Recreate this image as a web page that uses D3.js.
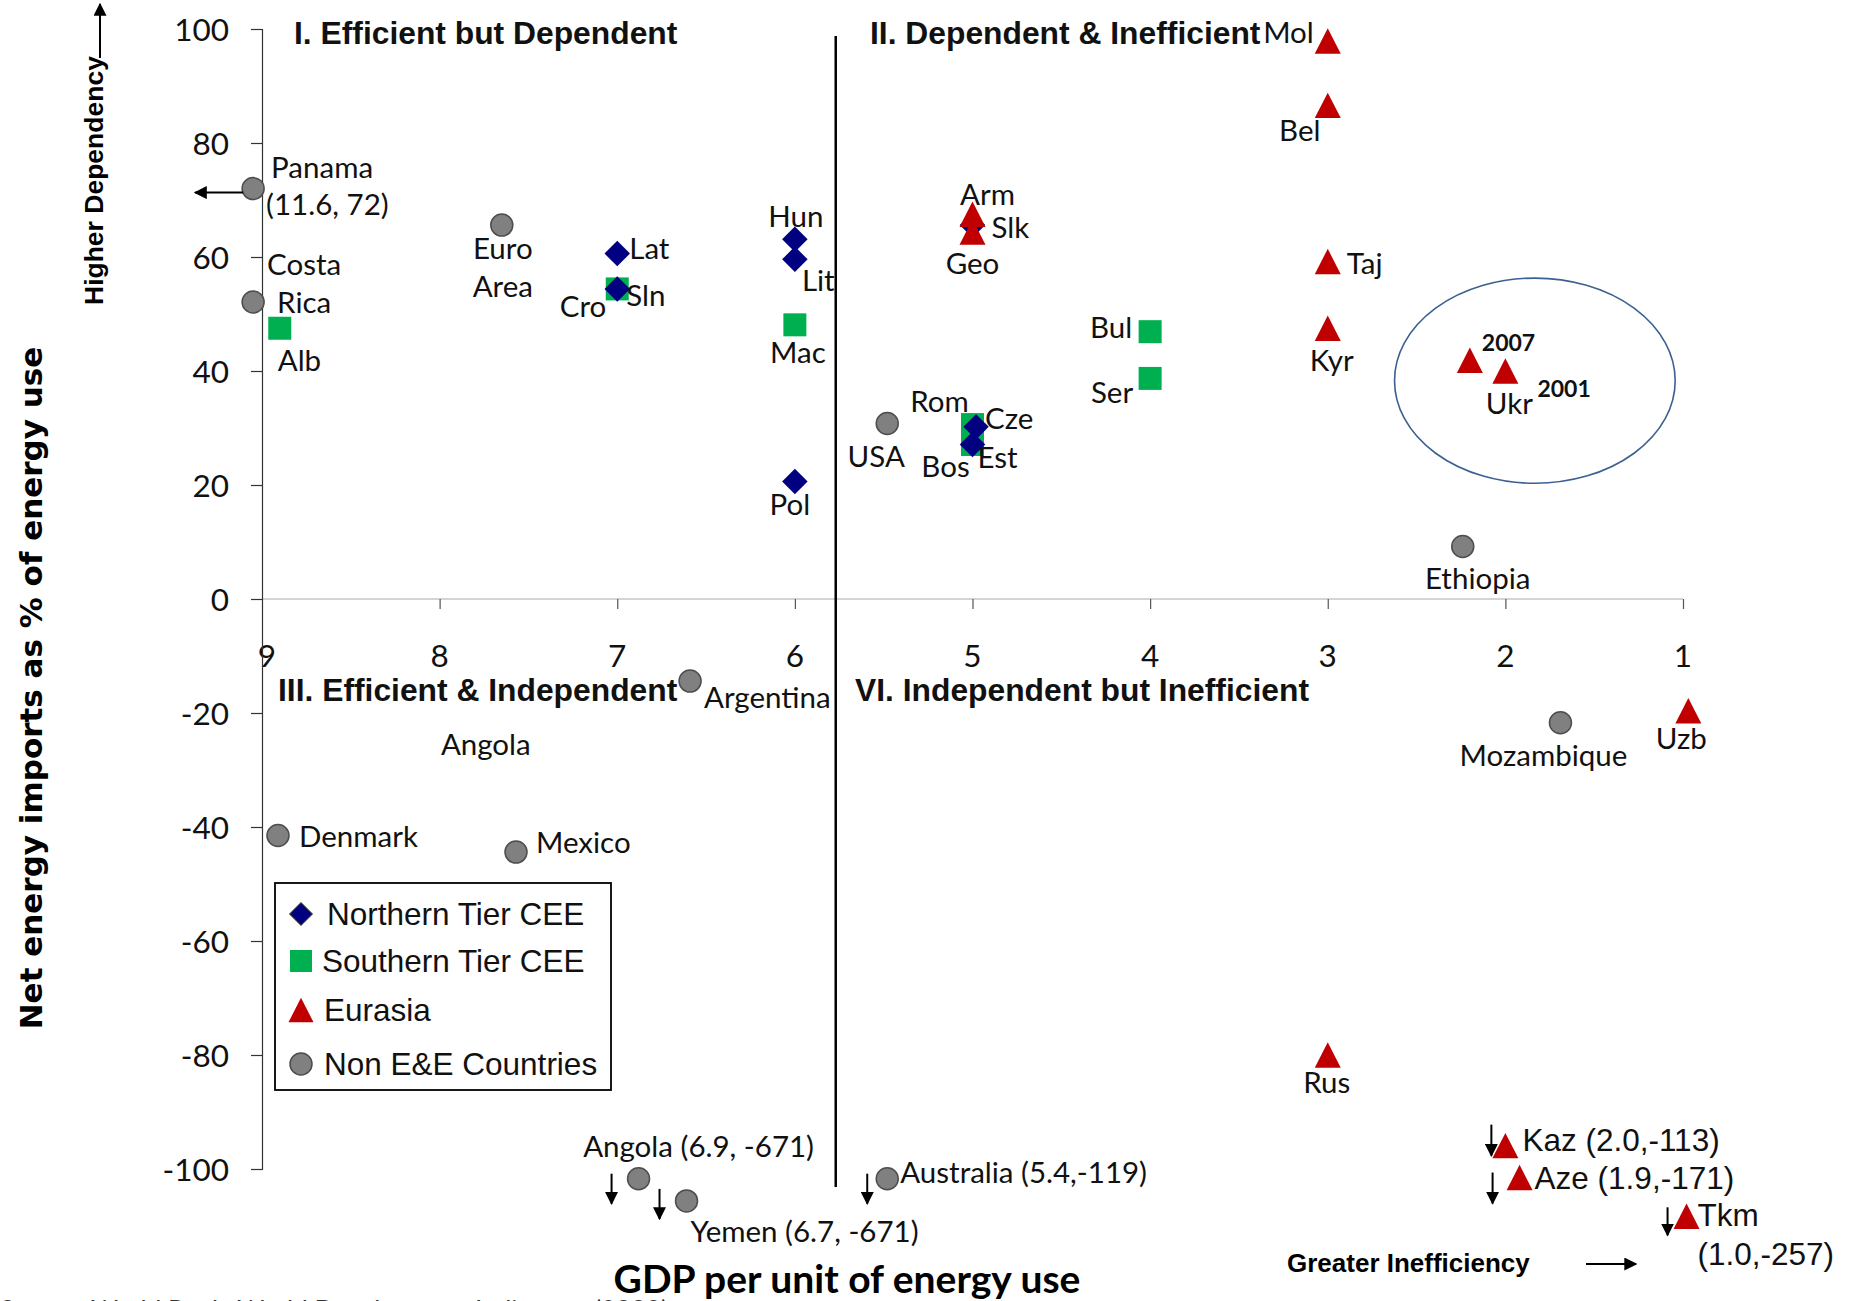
<!DOCTYPE html>
<html>
<head>
<meta charset="utf-8">
<script src="https://cdn.jsdelivr.net/npm/d3@7"></script>
<style>
  html, body { margin: 0; padding: 0; background: #fff; }
  svg { display: block; }
  .lbl { font-family: Lato, "Open Sans", sans-serif; font-size: 29.5px; fill: #111; }
  .lbla { font-family: "Liberation Sans", Arial, sans-serif; font-size: 31.5px; fill: #111; }
  .tick { font-family: Lato, sans-serif; font-size: 31.5px; fill: #111; }
  .quad { font-family: "Liberation Sans", Arial, sans-serif; font-weight: bold; font-size: 31.8px; fill: #111; }
  .yr { font-family: Lato, sans-serif; font-weight: bold; font-size: 23px; fill: #111; }
</style>
</head>
<body>
<svg id="chart" width="1856" height="1301"></svg>
<script>
// ---------------- DATA ----------------
const northernTier = [
  {name: "Lat", x: 7.0, y: 60.6},
  {name: "Sln", x: 7.0, y: 54.4},
  {name: "Hun", x: 6.0, y: 63.1},
  {name: "Lit", x: 6.0, y: 59.6},
  {name: "Pol", x: 6.0, y: 20.6},
  {name: "Slk", x: 5.0, y: 65.6},
  {name: "Cze", x: 4.98, y: 30.2},
  {name: "Est", x: 5.0, y: 27.1}
];
const southernTier = [
  {name: "Alb", x: 8.9, y: 47.5},
  {name: "Cro", x: 7.0, y: 54.4},
  {name: "Mac", x: 6.0, y: 48.1},
  {name: "Bul", x: 4.0, y: 46.9},
  {name: "Ser", x: 4.0, y: 38.7},
  {name: "Rom", x: 5.0, y: 30.6},
  {name: "Bos", x: 5.0, y: 27.1}
];
const eurasia = [
  {name: "Mol", x: 3.0, y: 97.9},
  {name: "Bel", x: 3.0, y: 86.6},
  {name: "Arm", x: 5.0, y: 67.5},
  {name: "Geo", x: 5.0, y: 64.4},
  {name: "Taj", x: 3.0, y: 59.2},
  {name: "Kyr", x: 3.0, y: 47.5},
  {name: "Ukr2007", x: 2.2, y: 41.9},
  {name: "Ukr2001", x: 2.0, y: 40.0},
  {name: "Uzb", x: 0.97, y: -19.6},
  {name: "Rus", x: 3.0, y: -80.0},
  {name: "Kaz", x: 2.0, y: -95.9},
  {name: "Aze", x: 1.92, y: -101.5},
  {name: "Tkm", x: 0.98, y: -108.3}
];
// off-scale points are shown at the chart edge (true values are in their labels)
const nonEE = [
  {name: "Panama", x: 9.05, y: 72.0},
  {name: "Costa Rica", x: 9.05, y: 52.1},
  {name: "Euro Area", x: 7.65, y: 65.6},
  {name: "USA", x: 5.48, y: 30.8},
  {name: "Ethiopia", x: 2.24, y: 9.2},
  {name: "Argentina", x: 6.59, y: -14.4},
  {name: "Denmark", x: 8.91, y: -41.5},
  {name: "Mexico", x: 7.57, y: -44.4},
  {name: "Mozambique", x: 1.69, y: -21.7},
  {name: "Angola", x: 6.88, y: -101.7},
  {name: "Yemen", x: 6.61, y: -105.6},
  {name: "Australia", x: 5.48, y: -101.7}
];
const xTicks = [9, 8, 7, 6, 5, 4, 3, 2, 1];
const yTicks = [100, 80, 60, 40, 20, 0, -20, -40, -60, -80, -100];
const quadrantTitles = [
  "I. Efficient but Dependent",
  "II. Dependent & Inefficient",
  "III. Efficient & Independent",
  "VI. Independent but Inefficient"
];
const legendItems = ["Northern Tier CEE", "Southern Tier CEE", "Eurasia", "Non E&E Countries"];
const quadrantDividerX = 5.77;
const ukraineCircle = {cx: 1.834, cy: 38.3, rx: 0.79, ry: 18};
const strayLabel = {text: "Angola", x: 7.74, y: -25.4};

// ---------------- LAYOUT ----------------
const svg = d3.select("#chart");
const x = d3.scaleLinear().domain([9, 1]).range([262, 1683]);
const y = d3.scaleLinear().domain([100, -100]).range([29, 1169]);

const colors = {north: "#000080", south: "#00b050", eur: "#c00000", non: "#808080"};

// arrow marker
const defs = svg.append("defs");
defs.append("marker").attr("id", "ah").attr("viewBox", "0 0 10 10")
  .attr("refX", 9).attr("refY", 5).attr("markerWidth", 6.5).attr("markerHeight", 6.5)
  .attr("orient", "auto")
  .append("path").attr("d", "M0,0 L10,5 L0,10 z").attr("fill", "#000");

// zero line (x axis)
const xAxis = d3.axisBottom(x).tickValues(xTicks).tickSize(10).tickFormat("");
const gx = svg.append("g").attr("transform", `translate(0,${y(0)})`).call(xAxis);
gx.select(".domain").attr("stroke", "#d4d4d4").attr("stroke-width", 2).attr("d", `M${x(9)},0H${x(1)}`);
gx.selectAll(".tick line").attr("stroke", "#555").attr("stroke-width", 1.2);
gx.selectAll(".tick").filter(d => d === 9).remove();

svg.append("g").selectAll("text").data(xTicks).join("text")
  .attr("class", "tick").attr("text-anchor", "middle").attr("dominant-baseline", "central")
  .attr("x", d => x(d) + (d === 9 ? 5 : 0)).attr("y", y(0) + 56).text(d => d);

// y axis
const yAxis = d3.axisLeft(y).tickValues(yTicks).tickSize(11).tickFormat("");
const gy = svg.append("g").attr("transform", `translate(${x(9)},0)`).call(yAxis);
gy.select(".domain").attr("stroke", "#333").attr("stroke-width", 1.2);
gy.selectAll(".tick line").attr("stroke", "#333").attr("stroke-width", 1.2);
svg.append("g").selectAll("text").data(yTicks).join("text")
  .attr("class", "tick").attr("text-anchor", "end").attr("dominant-baseline", "central")
  .attr("x", x(9) - 33).attr("y", d => y(d)).text(d => d);

// quadrant divider
svg.append("line").attr("x1", x(quadrantDividerX)).attr("x2", x(quadrantDividerX))
  .attr("y1", 36).attr("y2", 1187).attr("stroke", "#000").attr("stroke-width", 2.5);

// quadrant titles
const qPos = [[294, 33], [870, 33], [278, 690], [855, 690]];
svg.append("g").selectAll("text").data(quadrantTitles).join("text")
  .attr("class", "quad").attr("dominant-baseline", "central")
  .attr("x", (d, i) => qPos[i][0]).attr("y", (d, i) => qPos[i][1]).text(d => d);

// Ukraine ellipse
svg.append("ellipse")
  .attr("cx", x(ukraineCircle.cx)).attr("cy", y(ukraineCircle.cy))
  .attr("rx", x(ukraineCircle.cx - ukraineCircle.rx) - x(ukraineCircle.cx))
  .attr("ry", y(ukraineCircle.cy - ukraineCircle.ry) - y(ukraineCircle.cy))
  .attr("fill", "none").attr("stroke", "#3c6090").attr("stroke-width", 1.6);

// symbols
const excelTriangle = {
  draw(ctx, size) {
    const w = Math.sqrt(size) / 2, h = w * 0.98;
    ctx.moveTo(0, -h); ctx.lineTo(w, h); ctx.lineTo(-w, h); ctx.closePath();
  }
};
const sqSym = d3.symbol().type(d3.symbolSquare).size(23 * 23);
const diaSym = d3.symbol().type(d3.symbolSquare).size(18 * 18);
const triSym = d3.symbol().type(excelTriangle).size(26 * 26);

svg.append("g").selectAll("path").data(southernTier).join("path")
  .attr("d", sqSym).attr("fill", colors.south)
  .attr("transform", d => `translate(${x(d.x)},${y(d.y)})`);
svg.append("g").selectAll("path").data(northernTier).join("path")
  .attr("d", diaSym).attr("fill", colors.north)
  .attr("transform", d => `translate(${x(d.x)},${y(d.y)}) rotate(45)`);
svg.append("g").selectAll("path").data(eurasia).join("path")
  .attr("d", triSym).attr("fill", colors.eur)
  .attr("transform", d => `translate(${x(d.x)},${y(d.y)})`);
svg.append("g").selectAll("circle").data(nonEE).join("circle")
  .attr("r", 11).attr("fill", colors.non).attr("stroke", "#4d4d4d").attr("stroke-width", 1.5)
  .attr("cx", d => x(d.x)).attr("cy", d => y(d.y));

// labels (offsets in px relative to the point)
const allPts = {};
[...northernTier, ...southernTier, ...eurasia, ...nonEE].forEach(d => allPts[d.name] = d);
const labelLayout = [
  {of: "Panama", t: "Panama", dx: 18, dy: -22, a: "start"},
  {of: "Panama", t: "(11.6, 72)", dx: 13, dy: 15, a: "start"},
  {of: "Costa Rica", t: "Costa", dx: 14, dy: -39, a: "start"},
  {of: "Costa Rica", t: "Rica", dx: 24, dy: -1, a: "start"},
  {of: "Alb", t: "Alb", dx: -2, dy: 31, a: "start"},
  {of: "Euro Area", t: "Euro", dx: 1, dy: 22, a: "middle"},
  {of: "Euro Area", t: "Area", dx: 1, dy: 60, a: "middle"},
  {of: "Lat", t: "Lat", dx: 12, dy: -6, a: "start"},
  {of: "Sln", t: "Sln", dx: 9, dy: 6, a: "start"},
  {of: "Cro", t: "Cro", dx: -11, dy: 17, a: "end"},
  {of: "Hun", t: "Hun", dx: 1, dy: -24, a: "middle"},
  {of: "Lit", t: "Lit", dx: 7, dy: 20, a: "start"},
  {of: "Mac", t: "Mac", dx: 3, dy: 27, a: "middle"},
  {of: "Pol", t: "Pol", dx: -5, dy: 22, a: "middle"},
  {of: "Arm", t: "Arm", dx: 15, dy: -21, a: "middle"},
  {of: "Slk", t: "Slk", dx: 19, dy: 1, a: "start"},
  {of: "Geo", t: "Geo", dx: 0, dy: 31, a: "middle"},
  {of: "USA", t: "USA", dx: -11, dy: 32, a: "middle"},
  {of: "Rom", t: "Rom", dx: -33, dy: -24, a: "middle"},
  {of: "Cze", t: "Cze", dx: 9, dy: -9, a: "start"},
  {of: "Est", t: "Est", dx: 5, dy: 12, a: "start"},
  {of: "Bos", t: "Bos", dx: -27, dy: 21, a: "middle"},
  {of: "Bul", t: "Bul", dx: -18, dy: -5, a: "end"},
  {of: "Ser", t: "Ser", dx: -17, dy: 13, a: "end"},
  {of: "Mol", t: "Mol", dx: -14, dy: -9, a: "end"},
  {of: "Bel", t: "Bel", dx: -28, dy: 24, a: "middle"},
  {of: "Taj", t: "Taj", dx: 19, dy: 1, a: "start"},
  {of: "Kyr", t: "Kyr", dx: 4, dy: 31, a: "middle"},
  {of: "Ukr2001", t: "Ukr", dx: 4, dy: 31, a: "middle"},
  {of: "Ethiopia", t: "Ethiopia", dx: 15, dy: 31, a: "middle"},
  {of: "Argentina", t: "Argentina", dx: 14, dy: 15, a: "start"},
  {of: "Denmark", t: "Denmark", dx: 21, dy: 0, a: "start"},
  {of: "Mexico", t: "Mexico", dx: 20, dy: -11, a: "start"},
  {of: "Mozambique", t: "Mozambique", dx: -17, dy: 32, a: "middle"},
  {of: "Uzb", t: "Uzb", dx: -7, dy: 27, a: "middle"},
  {of: "Rus", t: "Rus", dx: -1, dy: 26, a: "middle"},
  {of: "Angola", t: "Angola (6.9, -671)", dx: 60, dy: -33, a: "middle"},
  {of: "Yemen", t: "Yemen (6.7, -671)", dx: 118, dy: 30, a: "middle"},
  {of: "Australia", t: "Australia (5.4,-119)", dx: 13, dy: -7, a: "start"},
  {of: "Kaz", t: "Kaz (2.0,-113)", dx: 17, dy: -6, a: "start", arial: true},
  {of: "Aze", t: "Aze (1.9,-171)", dx: 15, dy: 0, a: "start", arial: true},
  {of: "Tkm", t: "Tkm", dx: 11, dy: -1, a: "start", arial: true},
  {of: "Tkm", t: "(1.0,-257)", dx: 11, dy: 38, a: "start", arial: true}
];
svg.append("g").selectAll("text").data(labelLayout).join("text")
  .attr("class", d => d.arial ? "lbla" : "lbl")
  .attr("text-anchor", d => d.a).attr("dominant-baseline", "central")
  .attr("x", d => x(allPts[d.of].x) + d.dx).attr("y", d => y(allPts[d.of].y) + d.dy)
  .text(d => d.t);

// year tags for Ukraine
const yrTags = [{of: "Ukr2007", t: "2007", dx: 12, dy: -18}, {of: "Ukr2001", t: "2001", dx: 32, dy: 17}];
svg.append("g").selectAll("text").data(yrTags).join("text")
  .attr("class", "yr").attr("dominant-baseline", "central")
  .attr("x", d => x(allPts[d.of].x) + d.dx).attr("y", d => y(allPts[d.of].y) + d.dy).text(d => d.t);

// stray label
svg.append("text").attr("class", "lbl").attr("text-anchor", "middle").attr("dominant-baseline", "central")
  .attr("x", x(strayLabel.x)).attr("y", y(strayLabel.y)).text(strayLabel.text);

// down arrows for off-scale points
const downArrows = [
  {of: "Angola", dx: -27, y0: -5, y1: 25},
  {of: "Yemen", dx: -27, y0: -12, y1: 18},
  {of: "Australia", dx: -20, y0: -5, y1: 25},
  {of: "Kaz", dx: -14, y0: -21, y1: 10},
  {of: "Aze", dx: -27, y0: -5, y1: 26},
  {of: "Tkm", dx: -19, y0: -9, y1: 19}
];
svg.append("g").selectAll("line").data(downArrows).join("line")
  .attr("x1", d => x(allPts[d.of].x) + d.dx).attr("x2", d => x(allPts[d.of].x) + d.dx)
  .attr("y1", d => y(allPts[d.of].y) + d.y0).attr("y2", d => y(allPts[d.of].y) + d.y1)
  .attr("stroke", "#000").attr("stroke-width", 2).attr("marker-end", "url(#ah)");

// Panama left arrow
const pan = allPts["Panama"];
svg.append("line").attr("x1", x(pan.x) - 10).attr("x2", x(pan.x) - 58)
  .attr("y1", y(pan.y) + 4).attr("y2", y(pan.y) + 4)
  .attr("stroke", "#000").attr("stroke-width", 2).attr("marker-end", "url(#ah)");

// legend
const lg = svg.append("g");
lg.append("rect").attr("x", 275).attr("y", 883).attr("width", 336).attr("height", 207)
  .attr("fill", "#fff").attr("stroke", "#000").attr("stroke-width", 1.8);
const legRowY = [914, 961, 1010, 1064];
const legTextX = [327, 322, 324, 324];
const legSyms = [
  g => g.append("path").attr("d", d3.symbol().type(d3.symbolSquare).size(16 * 16)).attr("transform", "rotate(45)").attr("fill", colors.north).attr("stroke", "#333").attr("stroke-width", 1),
  g => g.append("path").attr("d", d3.symbol().type(d3.symbolSquare).size(22 * 22)).attr("fill", colors.south),
  g => g.append("path").attr("d", d3.symbol().type(excelTriangle).size(25 * 25)).attr("fill", colors.eur),
  g => g.append("circle").attr("r", 11).attr("fill", colors.non).attr("stroke", "#4d4d4d").attr("stroke-width", 1.5)
];
legendItems.forEach((t, i) => {
  const g = lg.append("g").attr("transform", `translate(301,${legRowY[i]})`);
  legSyms[i](g);
  lg.append("text").attr("class", "lbla").attr("dominant-baseline", "central")
    .attr("x", legTextX[i]).attr("y", legRowY[i]).style("font-size", "31.5px").text(t);
});

// axis titles
svg.append("text").attr("transform", "translate(31,688) rotate(-90)")
  .attr("text-anchor", "middle").attr("dominant-baseline", "central")
  .style("font-family", "'DejaVu Sans', Verdana, sans-serif").style("font-weight", "bold").style("font-size", "31px")
  .text("Net energy imports as % of energy use");
svg.append("text").attr("x", 847).attr("y", 1278)
  .attr("text-anchor", "middle").attr("dominant-baseline", "central")
  .style("font-family", "Lato, sans-serif").style("font-weight", "bold").style("font-size", "39px")
  .text("GDP per unit of energy use");

// Higher Dependency
svg.append("text").attr("transform", "translate(94,305) rotate(-90)")
  .attr("text-anchor", "start").attr("dominant-baseline", "central")
  .style("font-family", "'Liberation Sans', Arial, sans-serif").style("font-weight", "bold").style("font-size", "26.5px")
  .text("Higher Dependency");
svg.append("line").attr("x1", 100).attr("x2", 100).attr("y1", 58).attr("y2", 4)
  .attr("stroke", "#000").attr("stroke-width", 2).attr("marker-end", "url(#ah)");

// Greater Inefficiency
svg.append("text").attr("x", 1287).attr("y", 1263).attr("dominant-baseline", "central")
  .style("font-family", "'Liberation Sans', Arial, sans-serif").style("font-weight", "bold").style("font-size", "26px")
  .text("Greater Inefficiency");
svg.append("line").attr("x1", 1586).attr("x2", 1636).attr("y1", 1264).attr("y2", 1264)
  .attr("stroke", "#000").attr("stroke-width", 2).attr("marker-end", "url(#ah)");

// cut-off source line at the bottom edge (only its top is visible in the original)
svg.append("text").attr("x", 0).attr("y", 1320)
  .style("font-family", "Lato, sans-serif").style("font-size", "26px").style("fill", "#333")
  .text("Source: World Bank, World Development Indicators (2009)");
</script>
</body>
</html>
